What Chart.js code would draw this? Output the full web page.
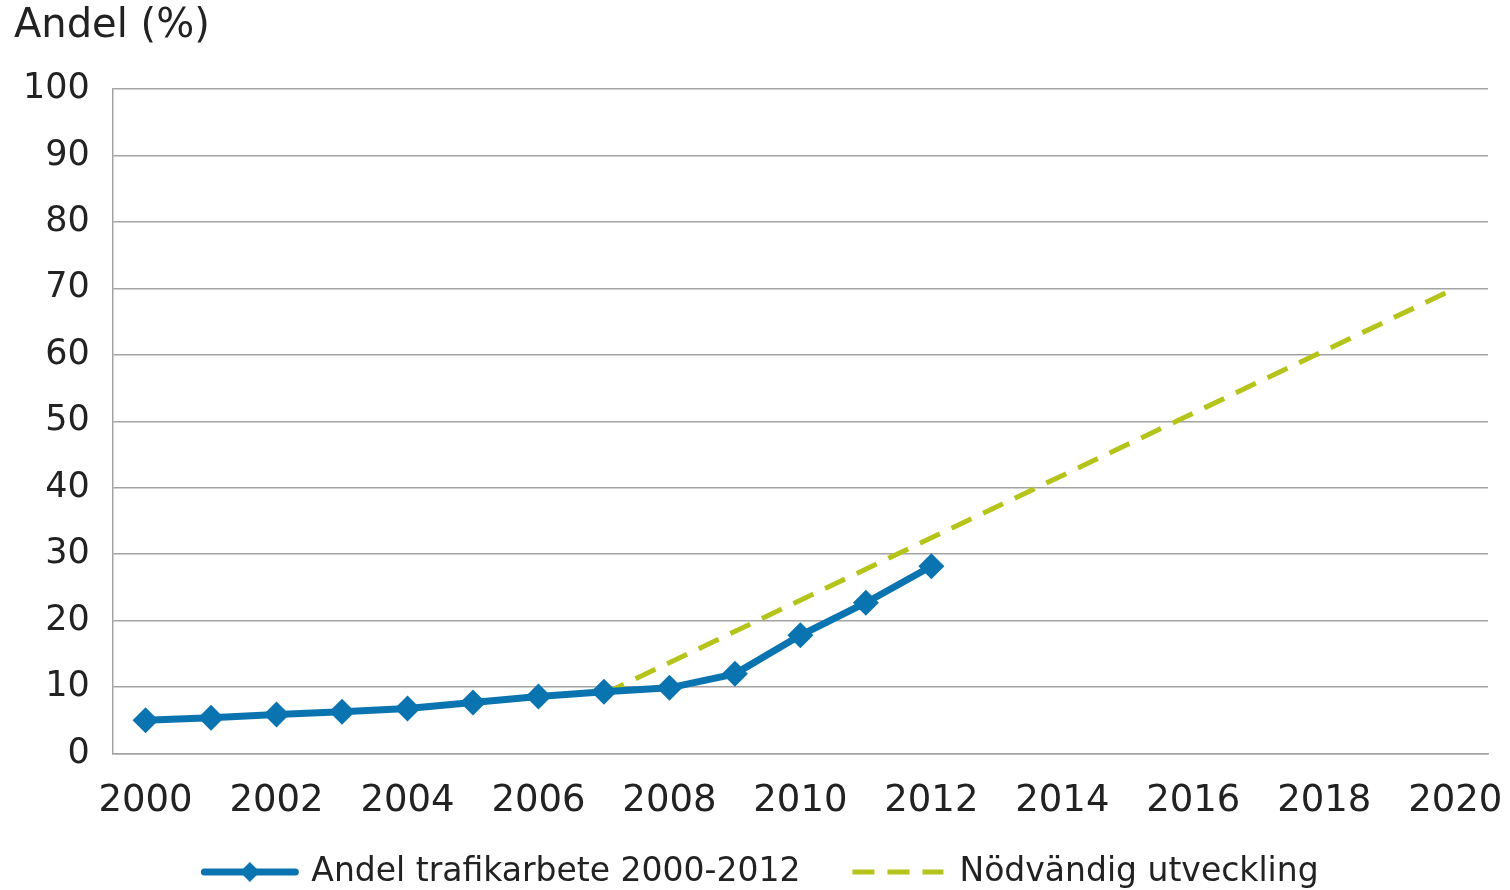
<!DOCTYPE html>
<html>
<head>
<meta charset="utf-8">
<script src="https://cdn.jsdelivr.net/npm/chart.js@4/dist/chart.umd.min.js"></script>
<style>
  html, body { margin: 0; padding: 0; background: #fff; }
  #wrap { width: 1510px; height: 890px; position: relative; }
</style>
</head>
<body>
<div id="wrap"><canvas id="chart"></canvas></div>
<script>
// ── data ─────────────────────────────────────────
const YEARS = ['2000','2001','2002','2003','2004','2005','2006','2007','2008','2009',
               '2010','2011','2012','2013','2014','2015','2016','2017','2018','2019','2020'];
const ANDEL = [5.0, 5.4, 5.9, 6.3, 6.8, 7.7, 8.6, 9.3, 9.9, 12.0, 17.8, 22.7, 28.2];
const NODVANDIG = [null, null, null, null, null, null, null, 9, null, null,
                   null, null, null, null, null, null, null, null, null, null, 70];
const Y_TICKS = [0, 10, 20, 30, 40, 50, 60, 70, 80, 90, 100];
const Y_TITLE = 'Andel (%)';

const BLUE  = '#0a74b1';
const GREEN = '#b4c41a';
const GRID  = '#a3a3a3';
const TEXT  = '#222';
const FONT  = 'DejaVu Sans';

// axis title top-left + bottom legend, drawn by hand so spacing matches
const decorations = {
  id: 'decorations',
  afterDraw(chart) {
    const ctx = chart.ctx;
    ctx.save();
    ctx.fillStyle = TEXT;
    ctx.font = `40px ${FONT}`;
    ctx.textBaseline = 'alphabetic';
    ctx.fillText(Y_TITLE, 14, 37);

    const sets = chart.data.datasets;
    const symW = 97, gapTxt = 13, gapItem = 49;
    const y = 872;
    ctx.font = `33px ${FONT}`;
    ctx.textBaseline = 'middle';
    const widths = sets.map(ds => symW + gapTxt + ctx.measureText(ds.label).width);
    const total = widths.reduce((a, b) => a + b, 0) + gapItem * (sets.length - 1);
    let x = (chart.width - total) / 2 + 5;
    sets.forEach((ds, i) => {
      ctx.strokeStyle = ds.borderColor;
      ctx.lineWidth = ds.borderWidth;
      ctx.setLineDash(ds.borderDash || []);
      ctx.lineCap = ds.borderDash ? 'butt' : 'round';
      ctx.beginPath();
      ctx.moveTo(x + 3, y); ctx.lineTo(x + symW - 3, y);
      ctx.stroke();
      if (ds.pointRadius) {
        const cx = x + symW / 2, r = 10;
        ctx.fillStyle = ds.backgroundColor;
        ctx.beginPath();
        ctx.moveTo(cx, y - r); ctx.lineTo(cx + r, y); ctx.lineTo(cx, y + r); ctx.lineTo(cx - r, y);
        ctx.closePath(); ctx.fill();
      }
      ctx.setLineDash([]);
      ctx.fillStyle = TEXT;
      ctx.fillText(ds.label, x + symW + gapTxt, y);
      x += widths[i] + gapItem;
    });
    ctx.restore();
  },
};

new Chart(document.getElementById('chart'), {
  type: 'line',
  data: {
    labels: YEARS,
    datasets: [
      {
        label: 'Andel trafikarbete 2000-2012',
        data: ANDEL,
        borderColor: BLUE,
        backgroundColor: BLUE,
        borderWidth: 7,
        pointStyle: 'rectRot',
        pointRadius: 13,
        pointBorderWidth: 0,
        tension: 0,
        order: 1,
      },
      {
        label: 'Nödvändig utveckling',
        data: NODVANDIG,
        borderColor: GREEN,
        backgroundColor: GREEN,
        borderWidth: 5,
        borderDash: [22, 13],
        pointRadius: 0,
        spanGaps: true,
        tension: 0,
        order: 2,
      },
    ],
  },
  plugins: [decorations],
  options: {
    responsive: true,
    maintainAspectRatio: false,
    animation: false,
    layout: { padding: { left: 0, right: 22, top: 89, bottom: 40 } },
    plugins: {
      title: { display: false },
      legend: { display: false },
      tooltip: { enabled: false },
    },
    scales: {
      x: {
        offset: true,
        afterFit: axis => { axis.paddingLeft = 0; axis.paddingRight = 0; },
        grid: { display: false, drawTicks: false },
        border: { color: GRID, width: 1.5 },
        ticks: {
          autoSkip: false,
          maxRotation: 0,
          padding: 26,
          color: TEXT,
          font: { family: FONT, size: 37 },
          callback: (v, i) => (i % 2 === 0 ? YEARS[i] : ''),
        },
      },
      y: {
        min: 0,
        max: 100,
        afterBuildTicks: axis => { axis.ticks = Y_TICKS.map(v => ({ value: v })); },
        grid: { color: GRID, lineWidth: 1.5, drawTicks: false },
        border: { color: GRID, width: 1.5 },
        ticks: {
          padding: 23,
          color: TEXT,
          font: { family: FONT, size: 35 },
        },
      },
    },
  },
});
</script>
</body>
</html>
